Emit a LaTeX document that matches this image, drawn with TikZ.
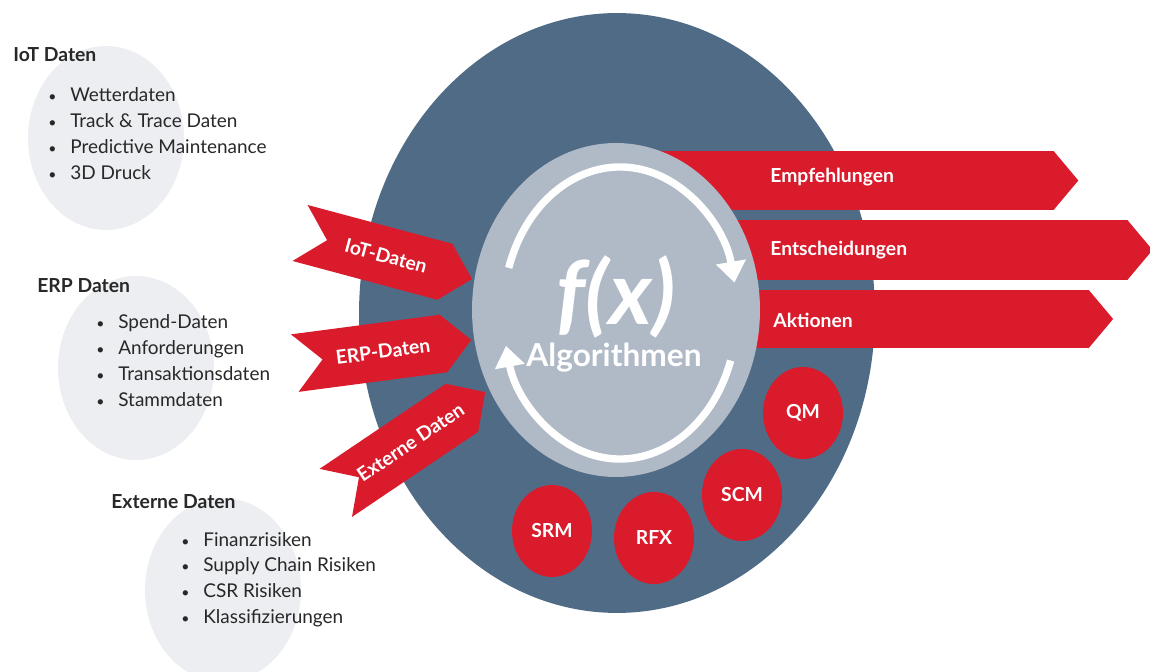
\documentclass[tikz,border=0pt]{standalone}
\usepackage{fontspec}
\setmainfont{Lato}
\usetikzlibrary{shapes.geometric,shapes.symbols,arrows.meta}

\definecolor{hubblue}{RGB}{80,107,134}
\definecolor{coregray}{RGB}{176,186,199}
\definecolor{signalred}{RGB}{218,27,44}
\definecolor{poolgray}{RGB}{236,238,241}
\definecolor{inktext}{RGB}{40,40,40}

% bullet in front of a list line
\newcommand\itm{\makebox[0.44cm][l]{\footnotesize\textbullet}}

\begin{document}
\begin{tikzpicture}[x=0.02cm,y=-0.02cm]
  \tikzset{
    pool/.style={ellipse,fill=poolgray,minimum width=3.12cm,minimum height=3.68cm},
    pool title/.style={anchor=west,inner sep=0,text=inktext,font=\bfseries\fontsize{11}{14}\selectfont},
    pool item/.style={anchor=base west,inner sep=0,text=inktext,font=\fontsize{10.8}{14}\selectfont},
    feed/.style={signal,signal from=west,signal to=east,signal pointer angle=92,fill=signalred,
      minimum width=3.56cm,minimum height=1.16cm,inner sep=0,text=white,font=\bfseries\fontsize{11}{13}\selectfont},
    outcome/.style={signal,signal to=east,signal pointer angle=100,fill=signalred,inner sep=0},
    outcome label/.style={anchor=west,inner sep=0,text=white,font=\bfseries\fontsize{11}{13}\selectfont},
    module/.style={ellipse,fill=signalred,minimum width=1.6cm,minimum height=1.84cm,text=white,font=\bfseries\fontsize{11}{13}\selectfont},
    cycle arrow/.style={white,line width=4.2pt,-{Triangle[width=0.58cm,length=0.42cm]}}
  }
  \useasboundingbox (0,0) rectangle (1150,672);

  % data pools on the left
  \node[pool] (iotpool) at (106,138) {};
  \node[pool] (erppool) at (136,368) {};
  \node[pool] (extpool) at (223,590) {};

  \node[pool title] (iottitle) at (13,55) {IoT Daten};
  \node[pool title] (erptitle) at (37,286) {ERP Daten};
  \node[pool title] (exttitle) at (111,502) {Externe Daten};

  \foreach \txt [count=\i from 0] in {Wetterdaten,Track \& Trace Daten,Predictive Maintenance,3D Druck}
    \node[pool item] (iot\i) at (48,{102+25.7*\i}) {\itm\txt};
  \foreach \txt [count=\i from 0] in {Spend-Daten,Anforderungen,Transaktionsdaten,Stammdaten}
    \node[pool item] (erp\i) at (96,{329+25.7*\i}) {\itm\txt};
  \foreach \txt [count=\i from 0] in {Finanzrisiken,Supply Chain Risiken,CSR Risiken,Klassifizierungen}
    \node[pool item] (ext\i) at (181,{546+25.7*\i}) {\itm\txt};

  % hub with results leaving to the right
  \node[ellipse,fill=hubblue,minimum width=10.32cm,minimum height=12cm] (hub) at (617,313) {};

  \node[outcome,minimum width=8.76cm,minimum height=1.18cm] (empf) at (847,180.5) {};
  \node[outcome,minimum width=10.24cm,minimum height=1.2cm] (entsch) at (884,250) {};
  \node[outcome,minimum width=9.46cm,minimum height=1.16cm] (akt) at (864.5,319) {};
  \node[outcome label] (empflabel) at (770,177) {Empfehlungen};
  \node[outcome label] (entschlabel) at (770,250) {Entscheidungen};
  \node[outcome label] (aktlabel) at (773,320) {Aktionen};

  % algorithm core
  \node[ellipse,fill=coregray,minimum width=5.76cm,minimum height=6.68cm] (core) at (616,310) {};
  \coordinate (loop) at (620,313);
  \draw[cycle arrow] ([shift={(-162:117 and 146)}]loop) arc[start angle=-162,end angle=-12,x radius=117,y radius=146];
  \draw[cycle arrow] ([shift={(19:117 and 146)}]loop) arc[start angle=19,end angle=167,x radius=117,y radius=146];
  \node[text=white,font=\bfseries\itshape\fontsize{50}{50}\selectfont] (fx) at (616,297) {f(x)};
  \node[text=white,font=\bfseries\fontsize{18}{20}\selectfont] (algo) at (614,358) {Algorithmen};

  % incoming data
  \node[feed,rotate=-15] (iotfeed) at (386,256) {IoT-Daten};
  \node[feed,rotate=7.5] (erpfeed) at (383,351.5) {ERP-Daten};
  \node[feed,rotate=34] (extfeed) at (410.5,442.5) {Externe Daten};

  % modules
  \node[module] (qm) at (803,413) {QM};
  \node[module] (scm) at (742,495) {SCM};
  \node[module] (rfx) at (654,538) {RFX};
  \node[module] (srm) at (552,531) {SRM};
\end{tikzpicture}
\end{document}
